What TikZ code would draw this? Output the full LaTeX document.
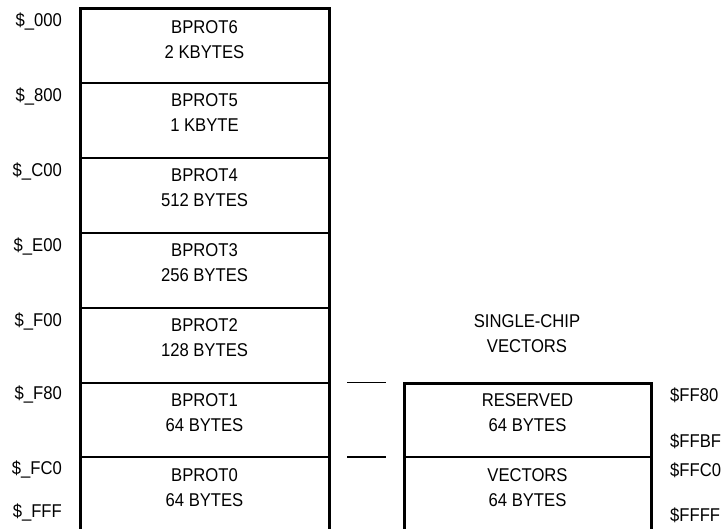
\documentclass[tikz,border=0pt]{standalone}
\usepackage{fontspec}
\setmainfont{Liberation Sans}[FakeStretch=0.9]
\begin{document}
\begin{tikzpicture}[x=1pt,y=-1pt,
  font=\fontsize{18.5}{25}\selectfont,
  thickline/.style={line width=3pt},
  thinline/.style={line width=1.3pt},
  region/.style={inner sep=0pt, align=center, anchor=center},
  addrl/.style={inner sep=0pt, anchor=base east},
  addrr/.style={inner sep=0pt, anchor=base west}]
\useasboundingbox (0,0) rectangle (722,529);
% left memory map
\foreach \yy in {83,158,233,308,383,457} \draw[thinline] (80,\yy) -- (329,\yy);
\draw[thickline] (80,532) -- (80,9) -- (329,9) -- (329,532);
\node[region] (b6) at (204.5,39.5) {BPROT6\\2 KBYTES};
\node[region] (b5) at (204.5,113) {BPROT5\\1 KBYTE};
\node[region] (b4) at (204.5,188) {BPROT4\\512 BYTES};
\node[region] (b3) at (204.5,263) {BPROT3\\256 BYTES};
\node[region] (b2) at (204.5,338) {BPROT2\\128 BYTES};
\node[region] (b1) at (204.5,413) {BPROT1\\64 BYTES};
\node[region] (b0) at (204.5,487.5) {BPROT0\\64 BYTES};
% left addresses
\node[addrl] (a0) at (62,27) {\$\_000};
\node[addrl] (a1) at (62,101.5) {\$\_800};
\node[addrl] (a2) at (62,176.5) {\$\_C00};
\node[addrl] (a3) at (62,251.5) {\$\_E00};
\node[addrl] (a4) at (62,326.5) {\$\_F00};
\node[addrl] (a5) at (62,399.5) {\$\_F80};
\node[addrl] (a6) at (62,474) {\$\_FC0};
\node[addrl] (a7) at (62,517) {\$\_FFF};
% right map
\node[region] (title) at (527,334) {SINGLE-CHIP\\VECTORS};
\draw[thinline] (404,457) -- (651,457);
\draw[thickline] (404,532) -- (404,383) -- (651,383) -- (651,532);
\node[region] (res) at (527.5,412.5) {RESERVED\\64 BYTES};
\node[region] (vec) at (527.5,487.5) {VECTORS\\64 BYTES};
\coordinate (s1a) at (347,382.5);
\coordinate (s1b) at (386,382.5);
\coordinate (s2a) at (347,457);
\coordinate (s2b) at (386,457);
\draw[thinline] (s1a) -- (s1b);
\draw[thinline] (s2a) -- (s2b);
% right addresses
\node[addrr] (r0) at (670,401.5) {\$FF80};
\node[addrr] (r1) at (670,447.5) {\$FFBF};
\node[addrr] (r2) at (670,476.5) {\$FFC0};
\node[addrr] (r3) at (670,521.5) {\$FFFF};
\end{tikzpicture}
\end{document}
